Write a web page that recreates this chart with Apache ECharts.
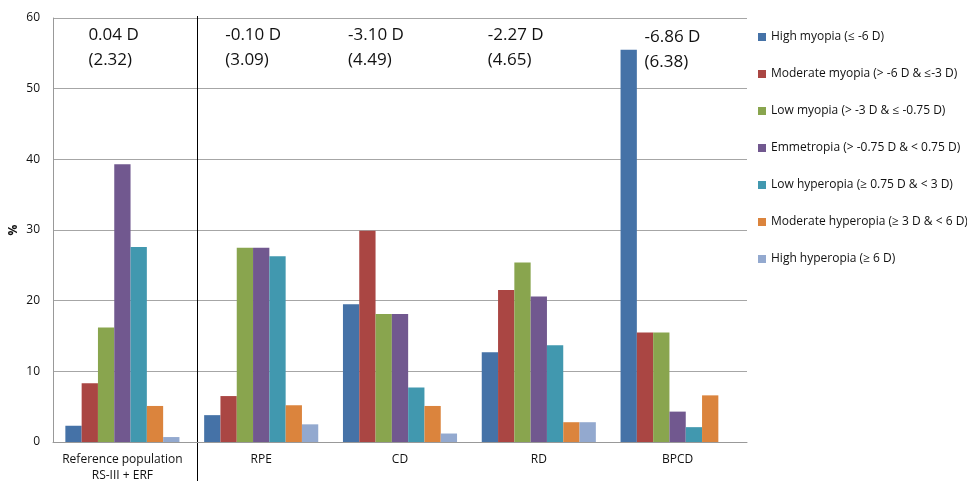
<!DOCTYPE html>
<html>
<head>
<meta charset="utf-8">
<script src="https://cdn.jsdelivr.net/npm/echarts@6/dist/echarts.min.js"></script>
<style>
  html, body { margin: 0; padding: 0; background: #fff; }
  #chart { width: 967px; height: 481px; }
</style>
</head>
<body>
<div id="chart"></div>
<script>
// groups on the x axis
const groups = ['Reference population\nRS-III + ERF', 'RPE', 'CD', 'RD', 'BPCD'];

// refractive classes (legend)
const classes = [
  'High myopia (≤ -6 D)',
  'Moderate myopia (> -6 D & ≤-3 D)',
  'Low myopia (> -3 D & ≤ -0.75 D)',
  'Emmetropia (> -0.75 D & < 0.75 D)',
  'Low hyperopia (≥ 0.75 D & < 3 D)',
  'Moderate hyperopia (≥ 3 D & < 6 D)',
  'High hyperopia (≥ 6 D)'
];

// % per group, one array per class
const highMyopia = [2.3, 3.8, 19.5, 12.7, 55.5];
const modMyopia = [8.3, 6.5, 29.9, 21.5, 15.5];
const lowMyopia = [16.2, 27.5, 18.1, 25.4, 15.5];
const emmetropia = [39.3, 27.5, 18.1, 20.6, 4.3];
const lowHyperopia = [27.6, 26.3, 7.7, 13.7, 2.1];
const modHyperopia = [5.1, 5.2, 5.1, 2.8, 6.6];
const highHyperopia = [0.7, 2.5, 1.2, 2.8, 0];

// mean refraction (SD) written above each group
const meanText = ['0.04 D', '-0.10 D', '-3.10 D', '-2.27 D', '-6.86 D'];
const sdText = ['(2.32)', '(3.09)', '(4.49)', '(4.65)', '(6.38)'];

const yTicks = [0, 10, 20, 30, 40, 50, 60];

const colors = ['#4572A7', '#AA4643', '#89A54E', '#71588F', '#4198AF', '#DB843D', '#93A9CF'];
const seriesData = [highMyopia, modMyopia, lowMyopia, emmetropia, lowHyperopia, modHyperopia, highHyperopia];

// text offsets from the group centre (px)
const textDx = [-34, -36, -52, -51, -33];
const textDy = [0, 0, 0, 0, 2];

const font = '"Open Sans", "Noto Sans", sans-serif';
const chart = echarts.init(document.getElementById('chart'), null, { renderer: 'canvas' });

const gridLeft = 53, gridRight = 220, gridTop = 18, gridBottom = 39;

chart.setOption({
  animation: false,
  color: colors,
  textStyle: { fontFamily: font },
  grid: {
    left: gridLeft, right: gridRight, top: gridTop, bottom: gridBottom,
    containLabel: false, outerBoundsMode: 'none'
  },
  legend: {
    orient: 'vertical',
    left: 758,
    top: 31,
    padding: 0,
    icon: 'rect',
    itemWidth: 8,
    itemHeight: 8,
    itemGap: 25,
    textStyle: { fontSize: 12, color: '#111', fontFamily: font },
    data: classes
  },
  xAxis: {
    type: 'category',
    data: groups,
    axisLine: { lineStyle: { color: '#999', width: 1 } },
    axisTick: { show: false },
    axisLabel: { color: '#111', fontSize: 12, lineHeight: 16, margin: 10, interval: 0 }
  },
  yAxis: {
    type: 'value',
    min: yTicks[0],
    max: yTicks[yTicks.length - 1],
    interval: 10,
    name: '%',
    nameLocation: 'middle',
    nameRotate: 90,
    nameGap: 33,
    nameMoveOverlap: false,
    nameTextStyle: { color: '#111', fontSize: 12, fontWeight: 'bold' },
    axisLine: { show: true, lineStyle: { color: '#999', width: 1 } },
    axisTick: { show: false },
    axisLabel: { color: '#111', fontSize: 12, margin: 13 },
    splitLine: { lineStyle: { color: '#a6a6a6', width: 1 } }
  },
  series: classes.map((name, i) => ({
    name: name,
    type: 'bar',
    data: seriesData[i],
    barGap: '0%',
    barCategoryGap: '17.8%',
    itemStyle: { color: colors[i] }
  }))
});

// annotations and the separator after the reference group
function drawExtras() {
  const elements = [];
  groups.forEach((g, i) => {
    const cx = chart.convertToPixel({ xAxisIndex: 0 }, i);
    elements.push({
      type: 'text',
      x: cx + textDx[i],
      y: gridTop + 5 + textDy[i],
      style: {
        text: meanText[i] + '\n' + sdText[i],
        fontSize: 17,
        lineHeight: 25,
        fontFamily: font,
        fill: '#111'
      }
    });
  });
  const c0 = chart.convertToPixel({ xAxisIndex: 0 }, 0);
  const c1 = chart.convertToPixel({ xAxisIndex: 0 }, 1);
  const sepX = Math.round((c0 + c1) / 2 + 6) - 0.5;
  elements.push({
    type: 'line',
    shape: { x1: sepX, y1: gridTop - 2, x2: sepX, y2: 481 },
    style: { stroke: '#000', lineWidth: 1 }
  });
  chart.setOption({ graphic: elements });
}
drawExtras();
</script>
</body>
</html>
